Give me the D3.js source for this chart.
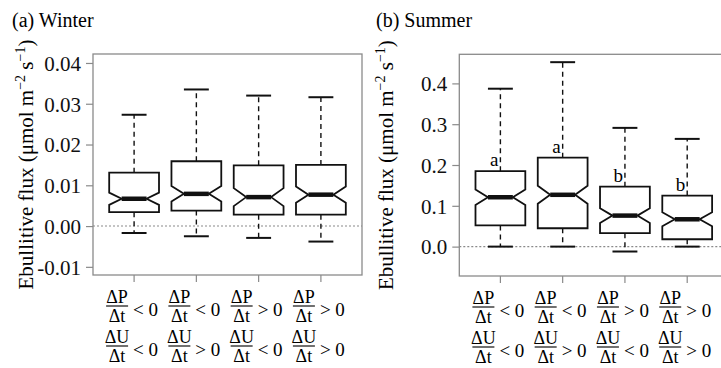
<!DOCTYPE html>
<html>
<head>
<meta charset="utf-8">
<script src="https://cdn.jsdelivr.net/npm/d3@7"></script>
<style>
  body { margin: 0; background: #fff; }
  svg { display: block; }
  svg text { font-family: "Liberation Serif", "Times New Roman", Times, serif; }
</style>
</head>
<body>
<svg width="721" height="368"></svg>
<script>
// groups: dP/dt sign and dU/dt sign
const groups = [1, 2, 3, 4];
const dpSigns = ["<", "<", ">", ">"];
const duSigns = ["<", ">", "<", ">"];

// winter boxes (umol m-2 s-1)
const winterHi = [0.0273, 0.0335, 0.0320, 0.0316];
const winterQ3 = [0.0131, 0.0159, 0.0149, 0.0150];
const winterMed = [0.0067, 0.0079, 0.0071, 0.0077];
const winterQ1 = [0.0034, 0.0038, 0.0028, 0.0028];
const winterLo = [-0.0017, -0.0025, -0.0029, -0.0038];
const winterNotch = [0.0015, 0.0019, 0.0022, 0.0020];
const winterTicks = [-0.01, 0, 0.01, 0.02, 0.03, 0.04];

// summer boxes
const summerHi = [0.387, 0.452, 0.291, 0.264];
const summerQ3 = [0.185, 0.218, 0.147, 0.125];
const summerMed = [0.121, 0.127, 0.076, 0.067];
const summerQ1 = [0.052, 0.045, 0.033, 0.018];
const summerLo = [0.0, 0.0, -0.012, 0.0];
const summerNotch = [0.019, 0.022, 0.018, 0.017];
const summerLetters = ["a", "a", "b", "b"];
const summerTicks = [0, 0.1, 0.2, 0.3, 0.4];

const svg = d3.select("svg");
const grey = "#8a8a8a";

function drawPanel(p) {
  const g = svg.append("g");

  const x = d3.scaleLinear().domain([0.34, 4.66]).range([p.left, p.left + 269]);
  const y = d3.scaleLinear().domain(p.yDomain).range([p.bottom, p.top]);
  const hw = x(1.4) - x(1);

  // title
  g.append("text").attr("x", p.titleX).attr("y", 27)
    .attr("font-size", 20).text(p.title);

  // frame
  g.append("rect")
    .attr("x", p.left).attr("y", p.top)
    .attr("width", 269).attr("height", p.bottom - p.top)
    .attr("fill", "none").attr("stroke", grey).attr("stroke-width", 1.3);

  // y axis
  const ya = g.append("g")
    .attr("transform", `translate(${p.left},0)`)
    .call(d3.axisLeft(y).tickValues(p.ticks).tickSize(7).tickPadding(5)
      .tickFormat(d => d.toFixed(p.digits)))
    .attr("font-family", null).attr("font-size", null);
  ya.select(".domain").remove();
  ya.selectAll("line").attr("stroke", grey).attr("stroke-width", 1.2);
  ya.selectAll("text").attr("font-size", 21).attr("fill", "#111").attr("dy", "0.35em");

  // x ticks
  g.selectAll(".xt").data(groups).join("line")
    .attr("x1", d => x(d)).attr("x2", d => x(d))
    .attr("y1", p.bottom).attr("y2", p.bottom + 7)
    .attr("stroke", grey).attr("stroke-width", 1.2);

  // axis title
  const yt = g.append("text")
    .attr("transform", `translate(${p.titleAxisX},${(p.top + p.bottom) / 2}) rotate(-90)`)
    .attr("text-anchor", "middle").attr("font-size", 21);
  yt.append("tspan").text("Ebullitive flux (\u03bcmol m");
  yt.append("tspan").attr("dy", -8).attr("font-size", 14).text("\u22122");
  yt.append("tspan").attr("dy", 8).text(" s");
  yt.append("tspan").attr("dy", -8).attr("font-size", 14).text("\u22121");
  yt.append("tspan").attr("dy", 8).text(")");

  // zero line
  g.append("line")
    .attr("x1", p.left).attr("x2", p.left + 269)
    .attr("y1", y(0)).attr("y2", y(0))
    .attr("stroke", grey).attr("stroke-width", 1.1).attr("stroke-dasharray", "2,2");

  const boxes = g.append("g").attr("fill", "none").attr("stroke", "#111");

  groups.forEach((gr, i) => {
    const cx = x(gr);
    const yq1 = y(p.q1[i]), yq3 = y(p.q3[i]), ym = y(p.med[i]);
    const ynl = y(p.med[i] - p.notch[i]), ynh = y(p.med[i] + p.notch[i]);

    // whiskers
    boxes.append("line").attr("x1", cx).attr("x2", cx)
      .attr("y1", yq3).attr("y2", y(p.hi[i]))
      .attr("stroke-width", 1.4).attr("stroke-dasharray", "5,4");
    boxes.append("line").attr("x1", cx).attr("x2", cx)
      .attr("y1", yq1).attr("y2", y(p.lo[i]))
      .attr("stroke-width", 1.4).attr("stroke-dasharray", "5,4");
    [p.hi[i], p.lo[i]].forEach(v => {
      boxes.append("line").attr("x1", cx - hw / 2).attr("x2", cx + hw / 2)
        .attr("y1", y(v)).attr("y2", y(v)).attr("stroke-width", 2);
    });

    // notched box
    const pts = [
      [cx - hw, yq1], [cx - hw, ynl], [cx - hw / 2, ym], [cx - hw, ynh], [cx - hw, yq3],
      [cx + hw, yq3], [cx + hw, ynh], [cx + hw / 2, ym], [cx + hw, ynl], [cx + hw, yq1]
    ];
    boxes.append("path")
      .attr("d", d3.line()(pts) + "Z")
      .attr("fill", "#fff").attr("stroke-width", 1.8).attr("stroke-linejoin", "miter");

    boxes.append("line").attr("x1", cx - hw / 2).attr("x2", cx + hw / 2)
      .attr("y1", ym).attr("y2", ym).attr("stroke-width", 4.5);

    if (p.letters) {
      g.append("text").attr("x", cx - 2).attr("y", yq3 - 5)
        .attr("text-anchor", "end").attr("font-size", 19).text(p.letters[i]);
    }

    // fraction labels
    [[p.bottom + 31, "\u0394P", dpSigns[i]], [p.bottom + 71, "\u0394U", duSigns[i]]].forEach(([by, num, s]) => {
      const fx = cx - 17;
      g.append("text").attr("x", fx).attr("y", by - 3)
        .attr("text-anchor", "middle").attr("font-size", 18).text(num);
      g.append("line").attr("x1", fx - 11).attr("x2", fx + 11)
        .attr("y1", by).attr("y2", by).attr("stroke", "#111").attr("stroke-width", 1.2);
      g.append("text").attr("x", fx).attr("y", by + 16)
        .attr("text-anchor", "middle").attr("font-size", 18).text("\u0394t");
      g.append("text").attr("x", cx - 1).attr("y", by + 10)
        .attr("font-size", 19).text(s + " 0");
    });
  });
}

drawPanel({
  title: "(a) Winter", titleX: 12, titleAxisX: 33,
  left: 93, top: 54, bottom: 275,
  yDomain: [-0.012, 0.0422], ticks: winterTicks, digits: 2,
  hi: winterHi, q3: winterQ3, med: winterMed, q1: winterQ1, lo: winterLo, notch: winterNotch
});

drawPanel({
  title: "(b) Summer", titleX: 376, titleAxisX: 393,
  left: 459.3, top: 54.3, bottom: 276,
  yDomain: [-0.072, 0.4713], ticks: summerTicks, digits: 1,
  hi: summerHi, q3: summerQ3, med: summerMed, q1: summerQ1, lo: summerLo, notch: summerNotch,
  letters: summerLetters
});
</script>
</body>
</html>
